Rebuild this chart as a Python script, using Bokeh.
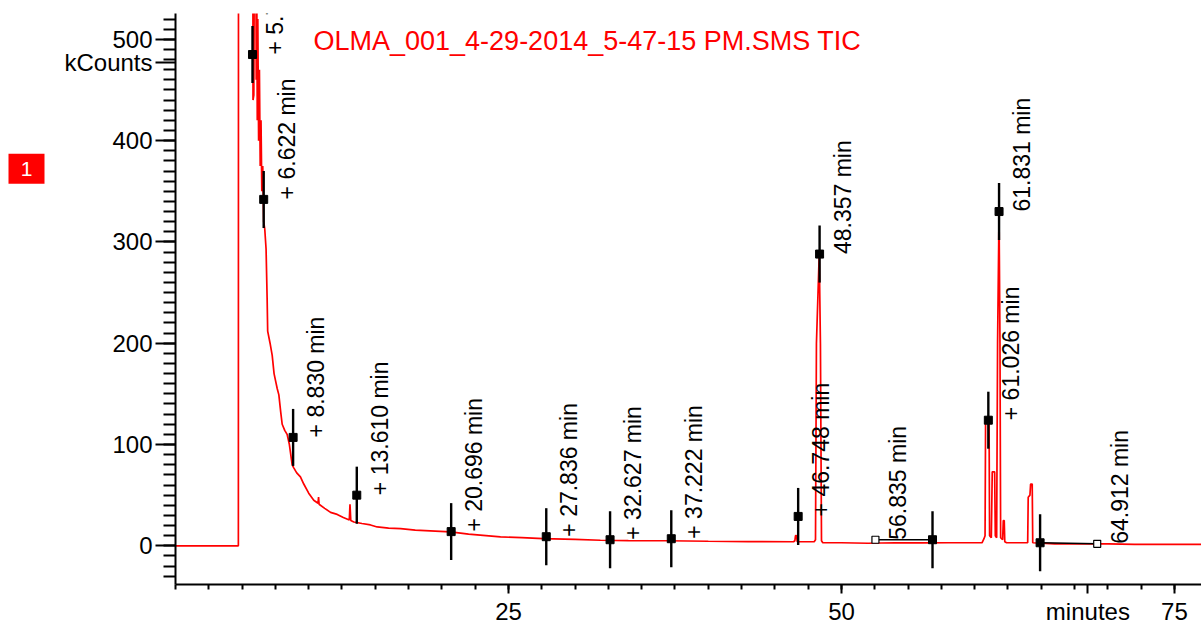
import numpy as np
from bokeh.plotting import figure
from bokeh.layouts import row
from bokeh.models import FixedTicker, Label, ColumnDataSource, Range1d
from bokeh.core.properties import value
from bokeh.embed import file_html
from bokeh.resources import INLINE

# ---------------- data ----------------
time_min = [0.0, 4.72, 4.73, 5.80, 5.82, 5.88, 5.95, 6.02, 6.06, 6.10, 6.14, 6.18, 6.24,
            6.30, 6.36, 6.42, 6.48, 6.55, 6.62, 6.70, 6.80, 6.88, 6.92, 7.10, 7.26, 7.40,
            7.51, 7.64, 7.76, 7.90, 8.01, 8.20, 8.38, 8.55, 8.76, 8.88, 9.10, 9.38, 9.63,
            10.00, 10.38, 10.70, 10.74, 10.78, 11.20, 11.64, 12.14, 12.60, 13.05, 13.10,
            13.16, 13.39, 14.00, 14.64, 15.14, 16.00, 16.90, 18.00, 19.50, 20.65, 22.00,
            24.40, 26.00, 27.60, 30.00, 31.90, 34.00, 36.90, 40.00, 43.00, 46.40, 46.50,
            46.55, 46.62, 46.68, 47.95, 48.05, 48.12, 48.33, 48.42, 48.50, 48.60, 50.00,
            52.00, 54.00, 56.00, 58.00, 60.00, 60.55, 60.70, 60.78, 60.82, 61.08, 61.12,
            61.25, 61.32, 61.50, 61.55, 61.65, 61.72, 61.83, 61.90, 61.95, 62.10, 62.15,
            62.22, 62.26, 62.40, 63.98, 64.02, 64.15, 64.20, 64.32, 64.36, 66.00, 70.00,
            72.00, 74.00, 77.00]
kcounts = [0, 0, 700, 700, 440, 445, 700, 700, 460, 560, 420, 520, 400,
           470, 375, 420, 350, 375, 320, 313, 293, 244, 212, 200, 188, 170,
           163, 155, 149, 132, 120, 114, 110, 100, 80, 77, 72, 68, 61,
           52, 45, 42, 48, 41, 37, 33, 31, 28, 25.5, 41,
           25, 23.5, 22, 20.6, 18.6, 17.5, 17, 15.5, 14.5, 13.7, 11.5,
           8.8, 8, 7, 6.3, 5.5, 5.2, 5, 4.5, 4.2, 4, 5,
           10, 10, 4, 4, 6, 200, 288, 200, 5, 3, 3,
           2.5, 3, 2.8, 3, 3, 3, 7, 10, 124, 124, 10,
           8, 73, 73, 10, 8, 200, 330, 200, 8, 6, 25,
           25, 4, 3, 3, 48, 50, 61, 61, 3, 2, 2,
           1.5, 1.5, 1.5]

peak_rt = [5.781, 6.622, 8.830, 13.610, 20.696, 27.836, 32.627, 37.222,
           46.748, 48.357, 56.835, 61.026, 61.831, 64.912]
peak_kcounts = [485, 342, 107, 50, 14, 9, 6, 7, 29, 288, 6, 124, 330, 3]

label_x = [5.781, 6.622, 8.830, 13.610, 20.696, 27.836, 32.627, 37.222,
           46.748, 48.357, 52.55, 61.026, 61.831, 69.2]
label_y = [485, 342, 107, 50, 14, 9, 6, 7, 29, 288, 6, 124, 330, 2]
label_text = ["+ 5.781 min", "+ 6.622 min", "+ 8.830 min", "+ 13.610 min",
              "+ 20.696 min", "+ 27.836 min", "+ 32.627 min", "+ 37.222 min",
              "+ 46.748 min", "48.357 min", "56.835 min", "+ 61.026 min",
              "61.831 min", "64.912 min"]

base_start_x = [52.55, 69.2]
base_start_y = [6, 2]
base_end_x = [56.835, 64.912]
base_end_y = [6, 3]

title_text = "OLMA_001_4-29-2014_5-47-15 PM.SMS TIC"
y_label = "kCounts"
x_label = "minutes"
trace_tag = "1"
y_major = [0, 100, 200, 300, 400, 500]
x_major = [25, 50, 75]
y_label_pos = 477
x_label_pos = 68.5

FONT = "Liberation Sans"

# ---------------- left strip with the trace tag ----------------
tag = figure(width=50, height=627, output_backend="svg", toolbar_location=None,
             x_range=Range1d(0, 50), y_range=Range1d(627, 0),
             x_axis_type=None, y_axis_type=None,
             min_border_left=0, min_border_right=0, min_border_top=0, min_border_bottom=0)
tag.outline_line_color = None
tag.grid.visible = False
tag.quad(left=[8], right=[44], top=[154], bottom=[187], fill_color="#ff0000",
         line_color=None)
tag.text(x=[26], y=[171], text=[trace_tag], text_align="center", text_baseline="middle",
         text_color="white", text_font=value(FONT), text_font_size="21px")

# ---------------- main chromatogram ----------------
p = figure(width=1151, height=627, output_backend="svg", toolbar_location=None,
           x_range=Range1d(0, 77.03), y_range=Range1d(-38.2, 525.5),
           min_border_left=125, min_border_right=0, min_border_top=13,
           min_border_bottom=39)
p.outline_line_color = None
p.grid.visible = False

p.line(time_min, kcounts, line_color="#ff0000", line_width=1.7)

p.segment(x0=base_start_x, y0=base_start_y, x1=base_end_x, y1=base_end_y,
          line_color="black", line_width=1.5)

src = ColumnDataSource(dict(x=peak_rt, y=peak_kcounts))
p.scatter("x", "y", source=src, marker="dash", angle=np.pi / 2, size=57,
          line_color="black", line_width=2.4)
p.scatter("x", "y", source=src, marker="square", size=8,
          fill_color="black", line_color="black")
p.scatter(base_start_x, base_start_y, marker="square", size=7,
          fill_color="white", line_color="black", line_width=1.2)

lsrc = ColumnDataSource(dict(x=label_x, y=label_y, text=label_text))
p.text("x", "y", text="text", source=lsrc, angle=np.pi / 2, text_align="left",
       text_baseline="middle", x_offset=23, text_font=value(FONT),
       text_font_size="23px", text_color="black")

for ax in (p.xaxis[0], p.yaxis[0]):
    ax.axis_line_color = "black"
    ax.axis_line_width = 2
    ax.major_tick_line_color = "black"
    ax.major_tick_line_width = 2
    ax.minor_tick_line_color = "black"
    ax.minor_tick_line_width = 2
    ax.major_tick_in = 0
    ax.minor_tick_in = 0
    ax.major_label_text_font = FONT
    ax.major_label_text_font_size = "24px"
    ax.major_label_text_color = "black"

p.yaxis.ticker = FixedTicker(ticks=y_major + [y_label_pos],
                             minor_ticks=list(np.arange(-30, 530, 10)))
p.yaxis.major_label_overrides = {y_label_pos: y_label}
p.yaxis.major_tick_out = 20
p.yaxis.minor_tick_out = 12
p.yaxis.major_label_standoff = 3

p.xaxis.ticker = FixedTicker(ticks=x_major + [x_label_pos],
                             minor_ticks=list(np.arange(0, 77.5, 2.5)))
p.xaxis.major_label_overrides = {x_label_pos: x_label}
p.xaxis.major_tick_out = 9
p.xaxis.minor_tick_out = 5
p.xaxis.major_label_standoff = 4

p.add_layout(Label(x=10.36, y=498.5, text=title_text, text_align="left",
                   text_baseline="middle", text_color="#ff0000",
                   text_font=FONT, text_font_size="27px"))

layout = row(tag, p, spacing=0)
open("out.html", "w").write(file_html(layout, INLINE))
